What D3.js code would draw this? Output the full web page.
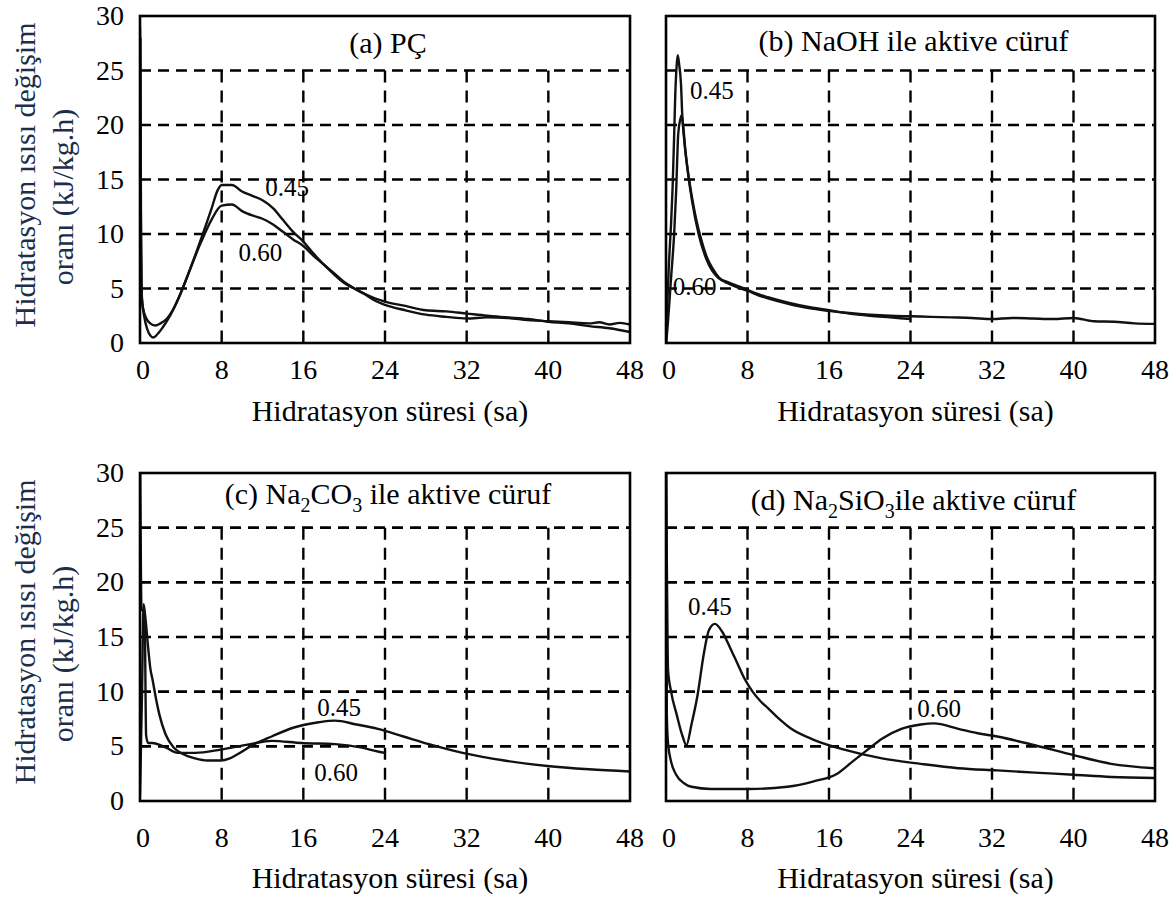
<!DOCTYPE html>
<html>
<head>
<meta charset="utf-8">
<script src="https://cdn.jsdelivr.net/npm/d3@7/dist/d3.min.js"></script>
<style>
  body { margin: 0; background: #fff; }
  text { font-family: "Liberation Serif", "Times New Roman", serif; fill: #000; }
</style>
</head>
<body>
<div id="chart"></div>
<script>
// axes
const xTicks = [0, 8, 16, 24, 32, 40, 48];
const yTicks = [0, 5, 10, 15, 20, 25, 30];
const gridX = [8, 16, 24, 32, 40];
const gridY = [5, 10, 15, 20, 25];

// (a) PÇ  -- [saat, kJ/kg.h]
const pc045 = [[0,29],[0.08,12],[0.15,4.5],[0.3,3.2],[0.6,2.3],[1.0,1.8],[1.5,1.6],[2.0,1.8],[2.6,2.2],[3.2,3.0],[4,4.6],[5,7.0],[6,9.6],[7,12.3],[7.6,14.0],[8,14.5],[9,14.5],[10,13.9],[11,13.5],[12,13.1],[13,12.4],[14,11.3],[15,10.2],[16,9.3],[17,8.2],[18,7.2],[19,6.3],[20,5.5],[21,5.0],[22,4.5],[23,4.1],[24,3.8],[26,3.4],[28,3.0],[30,2.9],[32,2.7],[34,2.5],[36,2.35],[38,2.2],[40,1.95],[42,1.8],[44,1.55],[46,1.35],[48,1.0]];
const pc060 = [[0.04,28],[0.1,10],[0.2,4],[0.4,2.5],[0.7,1.3],[1.0,0.7],[1.3,0.5],[1.7,0.8],[2.2,1.4],[3,2.6],[4,4.6],[5,7.0],[6,9.3],[7,11.3],[8,12.6],[9,12.7],[10,12.1],[11,11.7],[12,11.4],[13,10.9],[14,10.2],[15,9.5],[16,8.9],[17,8.0],[18,7.2],[19,6.4],[20,5.6],[21,5.0],[22,4.5],[23,3.9],[24,3.5],[26,3.0],[28,2.6],[30,2.4],[32,2.25],[34,2.35],[36,2.3],[38,2.1],[40,2.0],[42,1.9],[44,1.8],[45,1.9],[46,1.7],[47,1.85],[48,1.7]];

// (b) NaOH
const naoh045 = [[0,0],[0.1,3],[0.3,7.5],[0.5,11],[0.65,14.3],[0.8,19],[0.9,22.5],[1.05,25.5],[1.15,26.4],[1.3,25.5],[1.47,23.8],[1.6,20.8],[1.8,18.5],[2.0,16.8],[2.3,14.8],[2.6,13.1],[3.0,11.2],[3.4,9.7],[4.0,7.9],[4.6,6.8],[5.2,6.0],[6,5.5],[7,5.1],[8,4.8],[9,4.4],[10,4.1],[12,3.6],[14,3.2],[16,2.95],[18,2.75],[20,2.6],[22,2.5],[24,2.45],[26,2.4],[28,2.35],[30,2.3],[32,2.2],[34,2.3],[36,2.25],[38,2.2],[40,2.3],[42,2.0],[44,1.95],[46,1.8],[48,1.75]];
const naoh060 = [[0.02,0],[0.2,2],[0.5,6],[0.8,10],[1.0,14],[1.2,19.2],[1.4,20.5],[1.55,20.9],[1.7,19.8],[1.9,17.7],[2.2,15.3],[2.55,13.1],[3.2,10.0],[4.0,7.6],[5.1,6.0],[6,5.6],[7.7,5.0],[9,4.5],[10,4.2],[12,3.7],[14,3.3],[16,3.0],[18,2.7],[20,2.5],[22,2.35],[24,2.2]];

// (c) Na2CO3
const co045 = [[0,0.5],[0.2,10],[0.35,18],[0.5,17],[0.8,14],[1.0,12.2],[1.25,11],[1.6,9.2],[1.9,7.9],[2.5,6.1],[3.3,4.9],[4.2,4.3],[5.4,3.9],[6.6,3.7],[7.9,3.7],[8.8,3.9],[9.6,4.3],[11.2,5.2],[12.9,5.9],[15,6.7],[17.5,7.2],[19.1,7.35],[21.2,7.0],[23.3,6.6],[25.8,5.9],[28.3,5.2],[31.6,4.4],[35.7,3.7],[39.9,3.2],[44,2.9],[48,2.7]];
const co060 = [[0.02,30],[0.1,20],[0.15,17.5],[0.45,17.3],[0.6,6],[0.8,5.3],[1.2,5.3],[2.5,4.9],[3.7,4.4],[5.4,4.4],[7.9,4.7],[10.8,5.2],[12.9,5.5],[15.8,5.3],[19.1,5.2],[21.6,4.9],[23.4,4.5],[24,4.4]];

// (d) Na2SiO3
const si045 = [[0,30],[0.1,20],[0.2,12],[0.5,10],[1.05,7.9],[1.6,6.0],[2.0,5.1],[2.5,7.0],[3.1,9.7],[3.7,13.4],[4.2,15.6],[4.8,16.2],[5.5,15.5],[6.3,14.0],[7,12.6],[7.7,11.2],[8.5,10.0],[9.3,9.1],[10,8.5],[11,7.6],[12.3,6.6],[14.5,5.6],[17.5,4.7],[21.2,3.9],[25,3.4],[28.7,3.0],[32.5,2.8],[36.2,2.6],[40,2.4],[43.7,2.2],[48,2.1]];
const si060 = [[0.02,30],[0.08,8],[0.2,5.3],[0.5,3.6],[1,2.4],[1.8,1.6],[2.5,1.3],[4.4,1.1],[8.2,1.1],[11.9,1.3],[14.5,1.8],[16.8,2.5],[18.3,3.6],[19.8,4.7],[21.2,5.7],[23.1,6.6],[25,7.0],[26.3,7.1],[28.7,6.6],[30.6,6.2],[32.5,5.9],[36.2,5.1],[40,4.2],[43.7,3.4],[48,3.0]];

// su/bağlayıcı etiketleri: [metin, saat, değer]
const pcLabels = [["0.45", 14.4, 14.3], ["0.60", 11.8, 8.3]];
const naohLabels = [["0.45", 4.5, 23.2], ["0.60", 2.8, 5.2]];
const coLabels = [["0.45", 19.5, 8.6], ["0.60", 19.2, 2.6]];
const siLabels = [["0.45", 4.3, 17.8], ["0.60", 26.8, 8.5]];

const xTitle = "Hidratasyon süresi (sa)";
const yTitle1 = "Hidratasyon ısısı değişim";
const yTitle2 = "oranı (kJ/kg.h)";

const width = 1173, height = 899;

const panels = [
  { x0: 140, x1: 630, y0: 16, y1: 343, title: [["(a) PÇ"]], tDy: 37, tickDy: 36, xtY: 421, ytX: 25, ytC: 175, s: [pc045, pc060], lab: pcLabels, yAxis: true },
  { x0: 666, x1: 1155, y0: 16, y1: 343, title: [["(b) NaOH ile aktive cüruf"]], tDy: 35, tickDy: 36, xtY: 421, s: [naoh045, naoh060], lab: naohLabels, yAxis: false },
  { x0: 140, x1: 630, y0: 473, y1: 801, title: [["(c) Na"], ["2", 1], ["CO"], ["3", 1], [" ile aktive cüruf"]], tDy: 31, tickDy: 46, xtY: 888, ytX: 25, ytC: 632, s: [co045, co060], lab: coLabels, yAxis: true },
  { x0: 666, x1: 1155, y0: 473, y1: 801, title: [["(d) Na"], ["2", 1], ["SiO"], ["3", 1], ["ile aktive cüruf"]], tDy: 37, tickDy: 46, xtY: 888, s: [si045, si060], lab: siLabels, yAxis: false }
];

const svg = d3.select("#chart").append("svg")
  .attr("width", width)
  .attr("height", height)
  .attr("font-family", "'Liberation Serif', 'Times New Roman', serif");

panels.forEach((p, i) => {
  const x = d3.scaleLinear().domain([0, 48]).range([p.x0, p.x1]);
  const y = d3.scaleLinear().domain([0, 30]).range([p.y1, p.y0]);
  const g = svg.append("g");

  svg.append("clipPath").attr("id", "clip" + i)
    .append("rect")
    .attr("x", p.x0).attr("y", p.y0)
    .attr("width", p.x1 - p.x0).attr("height", p.y1 - p.y0);

  // kesikli ızgara
  g.selectAll(".gy").data(gridY).enter().append("line")
    .attr("x1", x(0)).attr("x2", x(48))
    .attr("y1", d => y(d)).attr("y2", d => y(d))
    .attr("stroke", "#000").attr("stroke-width", 2.6)
    .attr("stroke-dasharray", "11,7");
  g.selectAll(".gx").data(gridX).enter().append("line")
    .attr("x1", d => x(d)).attr("x2", d => x(d))
    .attr("y1", y(25)).attr("y2", y(0))
    .attr("stroke", "#000").attr("stroke-width", 2.4)
    .attr("stroke-dasharray", "12,8");

  // eğriler
  const line = d3.line()
    .x(d => x(d[0]))
    .y(d => y(d[1]))
    .curve(d3.curveMonotoneX);
  g.append("g").attr("clip-path", "url(#clip" + i + ")")
    .selectAll("path").data(p.s).enter().append("path")
    .attr("d", line)
    .attr("fill", "none")
    .attr("stroke", "#111")
    .attr("stroke-width", 2.4)
    .attr("stroke-linejoin", "round");

  // çerçeve
  g.append("rect")
    .attr("x", p.x0).attr("y", p.y0)
    .attr("width", p.x1 - p.x0).attr("height", p.y1 - p.y0)
    .attr("fill", "none").attr("stroke", "#000").attr("stroke-width", 2.6);

  // x tick etiketleri
  g.selectAll(".xt").data(xTicks).enter().append("text")
    .attr("x", d => x(d) + (d === 0 ? 3 : 0))
    .attr("y", p.y1 + p.tickDy)
    .attr("text-anchor", "middle")
    .attr("font-size", 28)
    .text(d => d);

  if (p.yAxis) {
    g.selectAll(".yt").data(yTicks).enter().append("text")
      .attr("x", p.x0 - 16)
      .attr("y", d => y(d) + 9)
      .attr("text-anchor", "end")
      .attr("font-size", 28)
      .text(d => d);

    g.append("text")
      .attr("transform", `translate(${p.ytX},${p.ytC}) rotate(-90)`)
      .attr("text-anchor", "middle")
      .attr("font-size", 30)
      .attr("dy", 10)
      .style("fill", "#1c2e4a")
      .text(yTitle1);
    g.append("text")
      .attr("transform", `translate(${p.ytX + 38},${p.ytC + 22}) rotate(-90)`)
      .attr("text-anchor", "middle")
      .attr("font-size", 30)
      .attr("dy", 10)
      .style("fill", "#1c2e4a")
      .text(yTitle2);
  }

  // x eksen başlığı
  g.append("text")
    .attr("x", (p.x0 + p.x1) / 2 + 5)
    .attr("y", p.xtY)
    .attr("text-anchor", "middle")
    .attr("font-size", 30)
    .text(xTitle);

  // panel başlığı
  const t = g.append("text")
    .attr("x", (p.x0 + p.x1) / 2 + 3)
    .attr("y", p.y0 + p.tDy)
    .attr("text-anchor", "middle")
    .attr("font-size", 30);
  let shifted = false;
  p.title.forEach(part => {
    const ts = t.append("tspan").text(part[0]);
    if (part[1]) {
      ts.attr("dy", 8).attr("font-size", 20);
      shifted = true;
    } else if (shifted) {
      ts.attr("dy", -8);
      shifted = false;
    }
  });

  // 0.45 / 0.60 etiketleri
  g.selectAll(".lab").data(p.lab).enter().append("text")
    .attr("x", d => x(d[1]))
    .attr("y", d => y(d[2]))
    .attr("dy", "0.35em")
    .attr("text-anchor", "middle")
    .attr("font-size", 25)
    .text(d => d[0]);
});
</script>
</body>
</html>
